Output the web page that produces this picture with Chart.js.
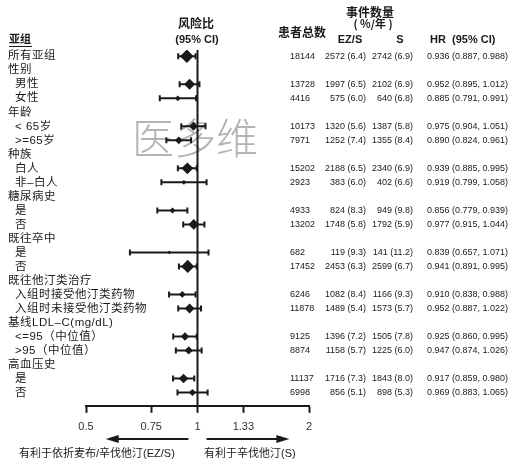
<!DOCTYPE html>
<html>
<head>
<meta charset="utf-8">
<script src="https://cdn.jsdelivr.net/npm/chart.js@4.4.0/dist/chart.umd.min.js"></script>
<style>
  html, body { margin: 0; padding: 0; background: #fff; }
  #wrap { width: 522px; height: 466px; position: relative; }
</style>
</head>
<body>
<div id="wrap"><canvas id="forest"></canvas></div>
<script>
// Subgroup rows, top to bottom (header rows carry null data)
const rowLabels = ['所有亚组', '性别', '男性', '女性', '年龄', '< 65岁', '>=65岁', '种族', '白人', '非–白人',
    '糖尿病史', '是', '否', '既往卒中', '是', '否', '既往他汀类治疗', '入组时接受他汀类药物', '入组时未接受他汀类药物',
    '基线LDL–C(mg/dL)', '<=95（中位值）', '>95（中位值）', '高血压史', '是', '否'];
const rowIndent = [0, 0, 1, 1, 0, 1, 1, 0, 1, 1, 0, 1, 1, 0, 1, 1, 0, 1, 1, 0, 1, 1, 0, 1, 1];

const nTotal    = [18144, null, 13728, 4416, null, 10173, 7971, null, 15202, 2923, null, 4933, 13202, null, 682, 17452, null, 6246, 11878, null, 9125, 8874, null, 11137, 6998];
const ezsEvents = [2572, null, 1997, 575, null, 1320, 1252, null, 2188, 383, null, 824, 1748, null, 119, 2453, null, 1082, 1489, null, 1396, 1158, null, 1716, 856];
const ezsRate   = [6.4, null, 6.5, 6.0, null, 5.6, 7.4, null, 6.5, 6.0, null, 8.3, 5.8, null, 9.3, 6.3, null, 8.4, 5.4, null, 7.2, 5.7, null, 7.3, 5.1];
const sEvents   = [2742, null, 2102, 640, null, 1387, 1355, null, 2340, 402, null, 949, 1792, null, 141, 2599, null, 1166, 1573, null, 1505, 1225, null, 1843, 898];
const sRate     = [6.9, null, 6.9, 6.8, null, 5.8, 8.4, null, 6.9, 6.6, null, 9.8, 5.9, null, 11.2, 6.7, null, 9.3, 5.7, null, 7.8, 6.0, null, 8.0, 5.3];
const hr        = [0.936, null, 0.952, 0.885, null, 0.975, 0.890, null, 0.939, 0.919, null, 0.856, 0.977, null, 0.839, 0.941, null, 0.910, 0.952, null, 0.925, 0.947, null, 0.917, 0.969];
const hrLow     = [0.887, null, 0.895, 0.791, null, 0.904, 0.824, null, 0.885, 0.799, null, 0.779, 0.915, null, 0.657, 0.891, null, 0.838, 0.887, null, 0.860, 0.874, null, 0.859, 0.883];
const hrHigh    = [0.988, null, 1.012, 0.991, null, 1.051, 0.961, null, 0.995, 1.058, null, 0.939, 1.044, null, 1.071, 0.995, null, 0.988, 1.022, null, 0.995, 1.026, null, 0.980, 1.065];

const xTicks = [0.5, 0.75, 1, 1.33, 2];

const Y_MIN = -0.45, Y_MAX = 24.95;
const INK = '#1a1a1a';
const cjk = '"Noto Sans CJK SC", "Liberation Sans", sans-serif';
const latin = '"Liberation Sans", Arial, sans-serif';
const mixed = '"Liberation Sans", "Noto Sans CJK SC", sans-serif';

// rows that have an estimate
const dataRows = rowLabels.map((_, i) => i).filter(i => hr[i] !== null);

// one short line per confidence interval
const ciSets = dataRows.map(i => ({
    type: 'scatter',
    showLine: true,
    data: [{ x: hrLow[i], y: i }, { x: hrHigh[i], y: i }],
    borderColor: INK,
    borderWidth: 2,
    pointRadius: 0
}));

const capPoints = [];
dataRows.forEach(i => {
    capPoints.push({ x: hrLow[i], y: i });
    capPoints.push({ x: hrHigh[i], y: i });
});

// marker size grows with number of patients
const markerSize = dataRows.map(i => 1.6 + 5.2 * nTotal[i] / nTotal[0]);

const fmt1 = v => v.toFixed(1);
const fmt3 = v => v.toFixed(3);

const tablePlugin = {
    id: 'forestText',
    beforeDatasetsDraw(chart) {
        const ctx = chart.ctx;
        ctx.save();
        ctx.fillStyle = 'rgba(130,130,130,0.6)';
        ctx.font = '200 42px ' + cjk;
        ctx.textBaseline = 'middle';
        ctx.fillText('医多维', 132, 138);
        ctx.restore();
    },
    afterDraw(chart) {
        const ctx = chart.ctx;
        const ys = chart.scales.y;
        const xs = chart.scales.x;
        ctx.save();
        ctx.fillStyle = INK;
        ctx.textBaseline = 'middle';

        // headers
        ctx.font = 'bold 11px ' + cjk;
        ctx.textAlign = 'left';
        ctx.fillText('亚组', 9, 39);
        ctx.fillRect(9, 46, 23, 1);
        ctx.font = 'bold 12px ' + cjk;
        ctx.textAlign = 'center';
        ctx.fillText('风险比', 196, 23);
        ctx.fillText('患者总数', 302, 32);
        ctx.fillText('事件数量', 370, 12);
        ctx.font = 'bold 11px ' + cjk;
        ctx.fillText('( %/年 )', 373, 24);
        ctx.font = 'bold 11px ' + latin;
        ctx.fillText('(95% CI)', 197, 40);
        ctx.fillText('EZ/S', 350, 40);
        ctx.fillText('S', 400, 40);
        ctx.textAlign = 'left';
        ctx.fillText('HR', 430, 40);
        ctx.fillText('(95% CI)', 452, 40);

        // row labels and numbers
        rowLabels.forEach((label, i) => {
            const y = ys.getPixelForValue(i);
            ctx.font = '11.5px ' + mixed;
            ctx.letterSpacing = '0.5px';
            ctx.textAlign = 'left';
            ctx.fillText(label, rowIndent[i] ? 15 : 8, y);
            ctx.letterSpacing = '0px';
            if (hr[i] === null) return;
            ctx.font = '9px ' + latin;
            ctx.textAlign = 'left';
            ctx.fillText(String(nTotal[i]), 290, y);
            ctx.textAlign = 'right';
            ctx.fillText(ezsEvents[i] + ' (' + fmt1(ezsRate[i]) + ')', 366, y);
            ctx.fillText(sEvents[i] + ' (' + fmt1(sRate[i]) + ')', 413, y);
            ctx.textAlign = 'left';
            ctx.fillText(fmt3(hr[i]) + ' (' + fmt3(hrLow[i]) + ', ' + fmt3(hrHigh[i]) + ')', 427, y);
        });

        // direction arrows under the axis
        const arrowY = 439;
        const drawArrow = (from, to) => {
            const x0 = xs.getPixelForValue(from), x1 = xs.getPixelForValue(to);
            const dir = Math.sign(x1 - x0);
            ctx.strokeStyle = INK;
            ctx.lineWidth = 2;
            ctx.beginPath();
            ctx.moveTo(x0, arrowY);
            ctx.lineTo(x1 - dir * 8, arrowY);
            ctx.stroke();
            ctx.beginPath();
            ctx.moveTo(x1, arrowY);
            ctx.lineTo(x1 - dir * 13, arrowY - 4);
            ctx.lineTo(x1 - dir * 13, arrowY + 4);
            ctx.closePath();
            ctx.fill();
        };
        drawArrow(0.945, 0.565);
        drawArrow(1.058, 1.77);

        ctx.font = '11px ' + mixed;
        ctx.textAlign = 'left';
        ctx.fillText('有利于依折麦布/辛伐他汀(EZ/S)', 19, 454);
        ctx.fillText('有利于辛伐他汀(S)', 204, 454);
        ctx.restore();
    }
};

new Chart(document.getElementById('forest'), {
    type: 'scatter',
    data: {
        datasets: [
            {
                type: 'scatter',
                showLine: true,
                data: [{ x: 1, y: Y_MIN }, { x: 1, y: Y_MAX }],
                borderColor: INK,
                borderWidth: 2,
                pointRadius: 0
            },
            ...ciSets,
            {
                data: capPoints,
                pointStyle: 'line',
                rotation: 90,
                pointRadius: 3,
                borderColor: INK,
                borderWidth: 2
            },
            {
                data: dataRows.map(i => ({ x: hr[i], y: i })),
                pointStyle: 'rectRot',
                pointRadius: markerSize,
                backgroundColor: INK,
                borderColor: INK,
                borderWidth: 0
            }
        ]
    },
    options: {
        responsive: true,
        maintainAspectRatio: false,
        animation: false,
        layout: { padding: { left: 86, right: 213, top: 50, bottom: 24 } },
        plugins: { legend: { display: false }, tooltip: { enabled: false } },
        scales: {
            x: {
                type: 'logarithmic',
                min: 0.5,
                max: 2,
                afterBuildTicks: scale => { scale.ticks = xTicks.map(v => ({ value: v })); },
                ticks: {
                    autoSkip: false,
                    maxRotation: 0,
                    padding: 8,
                    color: '#333',
                    font: { family: latin, size: 11 },
                    callback: v => String(v)
                },
                grid: {
                    drawOnChartArea: false,
                    drawTicks: true,
                    tickLength: 7,
                    tickColor: INK,
                    tickWidth: 2
                },
                border: { color: INK, width: 2 }
            },
            y: {
                type: 'linear',
                reverse: true,
                min: Y_MIN,
                max: Y_MAX,
                display: false
            }
        }
    },
    plugins: [tablePlugin]
});
</script>
</body>
</html>
